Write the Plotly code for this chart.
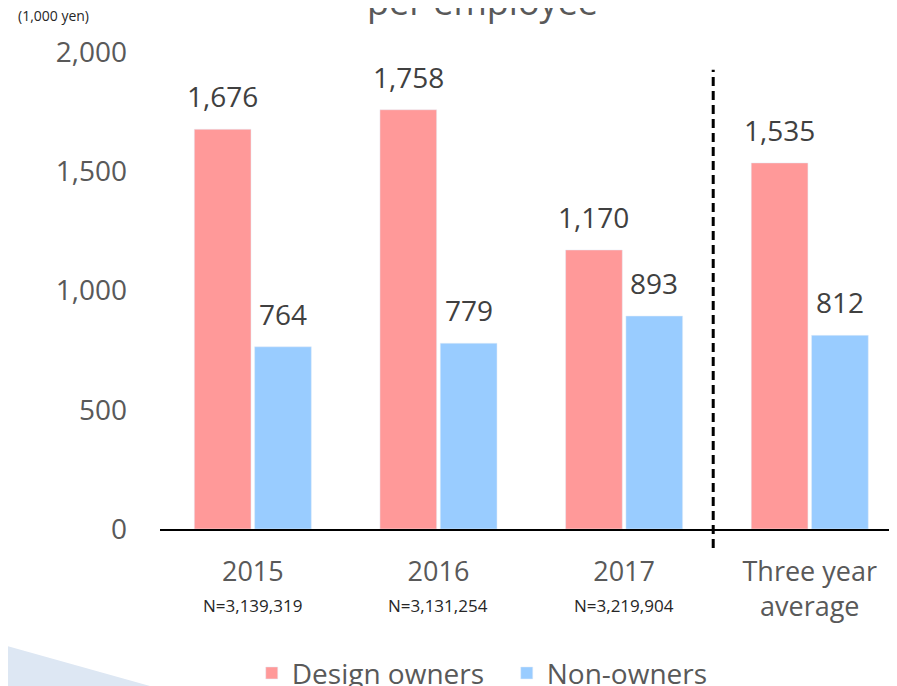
import plotly.graph_objects as go

CATEGORIES = ["2015", "2016", "2017", "Three year<br>average"]
DESIGN_OWNERS = [1676, 1758, 1170, 1535]
NON_OWNERS = [764, 779, 893, 812]
N_LABELS = ["N=3,139,319", "N=3,131,254", "N=3,219,904", ""]

PINK = "#FF9999"
BLUE = "#99CCFF"
FONT = "Open Sans"
GREY = "#595959"

fig = go.Figure()
fig.add_bar(x=CATEGORIES, y=DESIGN_OWNERS, name="Design owners", marker_color=PINK)
fig.add_bar(x=CATEGORIES, y=NON_OWNERS, name="Non-owners", marker_color=BLUE)

# value labels above the bars
offset = 0.1625
for i, (d, n) in enumerate(zip(DESIGN_OWNERS, NON_OWNERS)):
    for xv, yv in ((i - offset, d), (i + offset, n)):
        fig.add_annotation(
            x=xv, y=yv, text=f"{yv:,}", showarrow=False,
            yanchor="bottom", yshift=12,
            font=dict(family=FONT, size=28, color="#404040"),
        )

# sample sizes under the year labels
for i, lab in enumerate(N_LABELS):
    if lab:
        fig.add_annotation(
            x=i, y=-0.188, yref="paper", text=lab, showarrow=False,
            font=dict(family=FONT, size=17, color="#262626"),
        )

fig.add_annotation(
    x=-0.196, y=1.0755, xref="paper", yref="paper", text="(1,000 yen)",
    showarrow=False, xanchor="left", yanchor="middle",
    font=dict(family=FONT, size=14, color="#262626"),
)
fig.add_annotation(
    x=0.437, y=1.05, xref="paper", yref="paper", text="per employee",
    showarrow=False, xanchor="center", yanchor="bottom",
    font=dict(family=FONT, size=36, color=GREY),
)

# separator before the three-year average
fig.add_shape(
    type="line", xref="x", yref="paper", x0=2.48, x1=2.48, y0=-0.04, y1=0.963,
    line=dict(color="black", width=3, dash="9px,5px"),
)
# light blue decoration bottom-left
fig.add_shape(
    type="path", xref="paper", yref="paper",
    path="M -0.217,-0.241 L -0.0136,-0.329 L -0.217,-0.329 Z",
    fillcolor="#DDE7F3", line=dict(width=0), layer="below",
)

fig.update_layout(
    width=889, height=678,
    margin=dict(l=152, r=0, t=44, b=157, autoexpand=False),
    plot_bgcolor="white", paper_bgcolor="white",
    barmode="group", bargap=0.35, bargroupgap=0.06,
    font=dict(family=FONT, color=GREY),
    legend=dict(
        orientation="h", x=0.4705, xanchor="center", y=-0.25, yanchor="top",
        entrywidth=210,
        font=dict(family=FONT, size=28, color=GREY),
    ),
)
fig.update_xaxes(
    type="category", range=[-0.5, 3.47],
    showline=True, linecolor="black", linewidth=1.5,
    showgrid=False, ticks="", ticklabelstandoff=18,
    tickfont=dict(family=FONT, size=27, color=GREY),
)
fig.update_yaxes(
    range=[0, 2000], tickvals=[0, 500, 1000, 1500, 2000], tickformat=",",
    showgrid=False, showline=False, zeroline=False, ticks="",
    ticklabelstandoff=32,
    tickfont=dict(family=FONT, size=28, color=GREY),
)

fig.write_html("out.html")
